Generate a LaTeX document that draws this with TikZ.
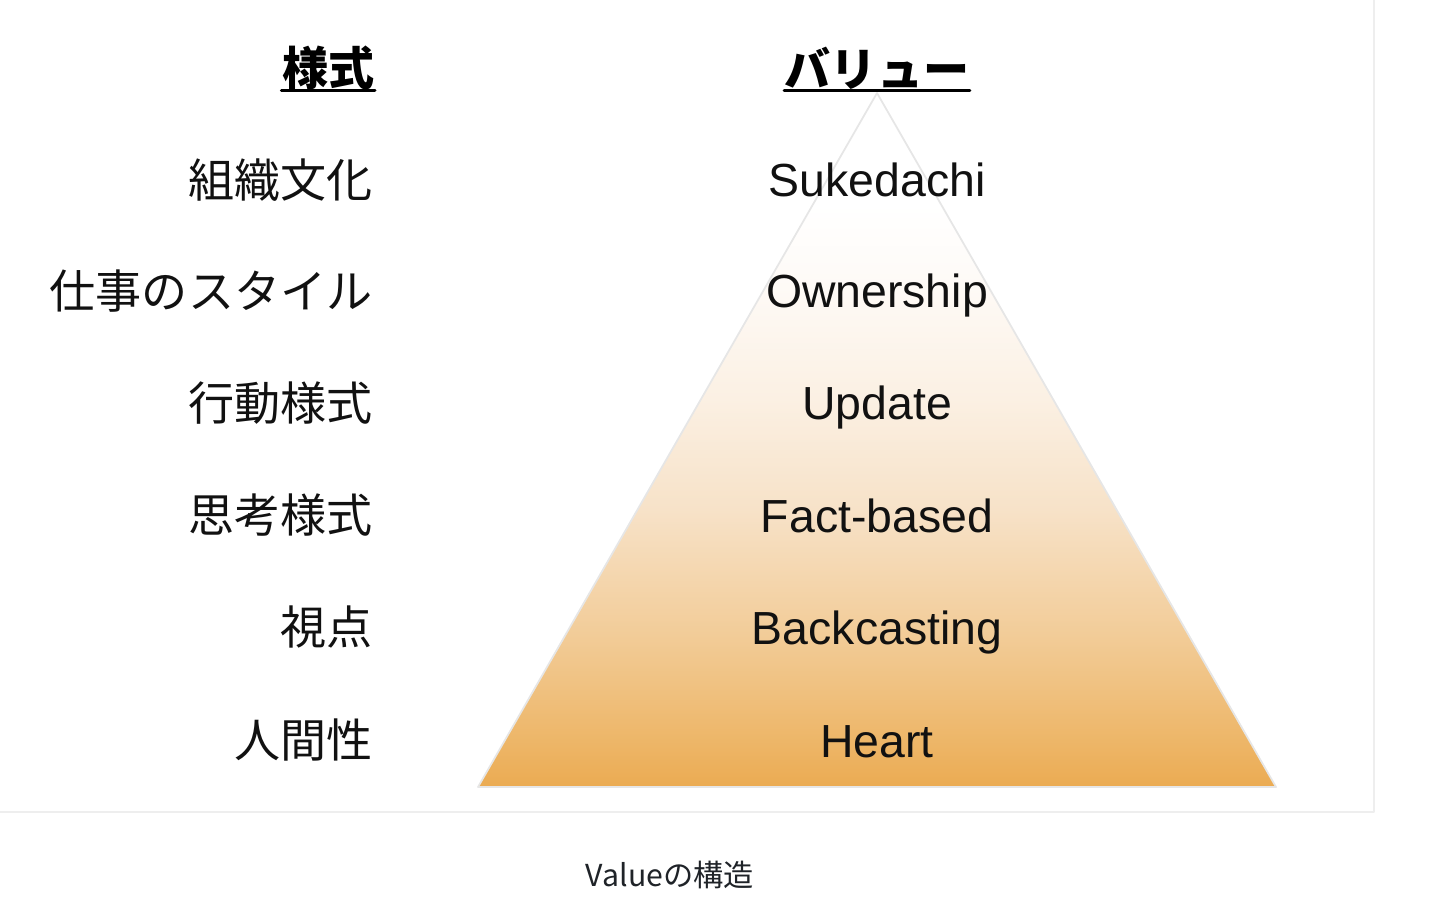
\documentclass[tikz,border=0pt]{standalone}
\usepackage{fontspec}
\setmainfont{Liberation Sans}
\newfontfamily\jp{Noto Sans CJK JP}
\definecolor{labelgray}{HTML}{111111}
\definecolor{captiongray}{HTML}{1F2328}
\definecolor{panelline}{HTML}{EEEEEE}
\definecolor{pyramidline}{HTML}{E6E6E6}
\pgfdeclareverticalshading{valueshade}{100bp}{%
  color(0bp)=(rgb,255:red,235;green,171;blue,82);
  color(25bp)=(rgb,255:red,235;green,171;blue,82);
  color(28bp)=(rgb,255:red,237;green,181;blue,102);
  color(36bp)=(rgb,255:red,242;green,204;blue,152);
  color(45bp)=(rgb,255:red,247;green,226;blue,200);
  color(53bp)=(rgb,255:red,251;green,240;blue,227);
  color(61bp)=(rgb,255:red,254;green,250;blue,246);
  color(67bp)=(white);
  color(100bp)=(white)}
\begin{document}
\begin{tikzpicture}[x=0.01cm,y=-0.01cm,line join=round,line cap=round,
  jplabel/.style={anchor=east,inner sep=0pt,text=labelgray,font=\jp\fontsize{13.1}{15}\selectfont},
  enlabel/.style={anchor=base,inner sep=0pt,text=labelgray,font=\fontsize{13.2}{15}\selectfont},
  header/.style={inner sep=0pt,font=\jp\bfseries\fontsize{13.1}{15}\selectfont}]
  \useasboundingbox (0,0) rectangle (1440,913);
  % panel edge
  \draw[panelline,line width=0.6pt] (1374,0) -- (1374,812) -- (0,812);
  % pyramid
  \coordinate (top) at (877,93);
  \coordinate (bl) at (478,787);
  \coordinate (br) at (1276,787);
  \shade[shading=valueshade] (top) -- (br) -- (bl) -- cycle;
  \draw[pyramidline,line width=0.5pt] (top) -- (br) -- (bl) -- cycle;
  % headers
  \coordinate (uline) at (0,91);
  \node[header,anchor=east] (hstyle) at (375,68) {様式};
  \node[header] (hvalue) at (877,68) {バリュー};
  \draw[line width=0.85pt] (hstyle.west |- uline) -- (hstyle.east |- uline);
  \draw[line width=0.85pt] (hvalue.west |- uline) -- (hvalue.east |- uline);
  % left column
  \node[jplabel] (culture) at (373,180) {組織文化};
  \node[jplabel] (workstyle) at (373,291) {仕事のスタイル};
  \node[jplabel] (action) at (373,403) {行動様式};
  \node[jplabel] (thinking) at (373,515) {思考様式};
  \node[jplabel] (view) at (373,627) {視点};
  \node[jplabel] (human) at (373,740) {人間性};
  % right column (baselines)
  \node[enlabel] (sukedachi) at (877,197) {Sukedachi};
  \node[enlabel] (ownership) at (877,308) {Ownership};
  \node[enlabel] (update) at (877,420) {Update};
  \node[enlabel] (fact) at (877,532) {Fact-based};
  \node[enlabel] (backcast) at (877,644) {Backcasting};
  \node[enlabel] (heart) at (877,757) {Heart};
  % caption
  \node[inner sep=0pt,text=captiongray,font=\jp\fontsize{8.6}{10}\selectfont] (caption) at (670,875) {Valueの構造};
\end{tikzpicture}
\end{document}
